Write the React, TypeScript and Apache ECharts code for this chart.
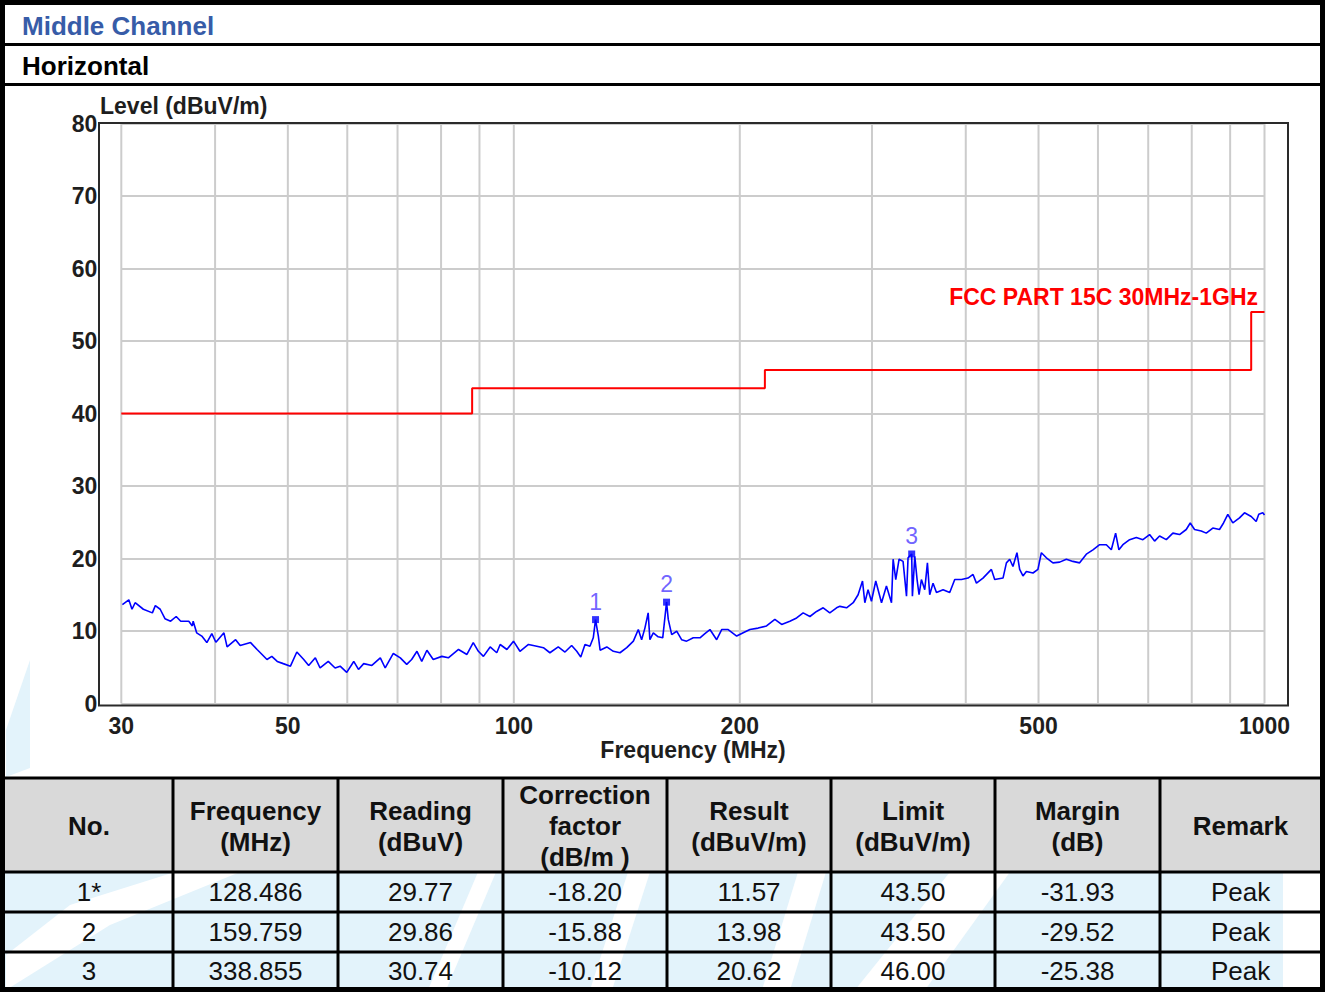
import React, { useEffect, useRef } from 'react';
import * as echarts from 'echarts';

// ---- Data ----
const traceFreq = [
  30.1, 30.7, 31.0, 31.3, 32.1, 33.0, 33.3, 33.8, 34.3, 34.9, 35.5, 36.0, 36.9, 37.3, 37.4, 37.8, 38.4, 39.0, 39.6, 40.1,
  41.1, 41.5, 42.6, 43.2, 44.6, 45.5, 46.2, 46.9, 47.6, 48.4, 49.3, 50.4, 51.4, 52.5, 53.3, 54.4, 55.2, 56.6, 57.8, 58.7,
  59.9, 61.2, 62.1, 63.1, 64.7, 66.4, 67.4, 69.1, 70.6, 72.0, 73.1, 74.3, 75.4, 76.6, 78.1, 80.2, 81.8, 84.4, 86.6, 88.3,
  89.7, 91.1, 93.0, 94.9, 95.9, 97.9, 99.9, 101.9, 104.6, 107.3, 109.5, 111.7, 114.6, 117.0, 119.4, 121.3, 122.8, 124.4,
  126.3, 127.6, 128.486, 129.6, 130.3, 133.0, 135.7, 138.5, 141.4, 144.3, 146.5, 148.0, 149.5, 151.0, 151.8, 153.4, 155.7,
  157.9, 159.759, 160.6, 162.3, 164.8, 167.3, 169.9, 173.4, 177.0, 179.7, 182.5, 186.3, 189.2, 193.0, 198.1, 202.1, 206.3,
  211.6, 217.1, 222.7, 227.4, 233.2, 238.1, 242.9, 248.0, 253.1, 258.3, 263.6, 269.1, 271.9, 277.5, 283.2, 287.5, 291.4,
  293.5, 296.4, 299.5, 303.5, 308.9, 313.6, 318.5, 320.1, 322.7, 326.0, 330.0, 333.5, 335.1, 338.855, 339.6, 342.1, 344.5,
  346.6, 349.1, 352.7, 355.6, 358.1, 361.8, 365.6, 373.1, 380.8, 386.7, 394.7, 402.8, 409.0, 413.3, 421.7, 432.7, 437.1,
  448.4, 453.1, 457.7, 462.3, 468.0, 471.9, 476.7, 481.7, 491.6, 499.1, 504.4, 512.2, 522.6, 533.5, 544.6, 555.7, 567.2,
  579.0, 590.8, 603.1, 615.6, 625.1, 633.4, 639.8, 647.7, 661.2, 674.9, 688.7, 702.9, 713.8, 724.8, 739.9, 755.0, 770.6,
  786.6, 796.3, 806.9, 823.6, 836.4, 853.4, 871.1, 881.9, 893.6, 907.4, 926.2, 940.5, 960.0, 974.8, 982.6, 994.7, 1000,
];
const traceLevel = [
  13.65, 14.3, 13.0, 13.9, 13.0, 12.5, 13.5, 13.0, 11.7, 11.35, 12.0, 11.35, 11.35, 10.7, 11.35, 9.75, 9.3, 8.4, 9.65, 8.45,
  9.75, 7.8, 8.8, 8.0, 8.4, 7.45, 6.76, 6.07, 6.5, 5.8, 5.5, 5.15, 7.1, 6.07, 5.25, 6.3, 4.9, 5.8, 4.9, 5.15,
  4.3, 5.8, 4.7, 5.5, 5.25, 6.3, 4.9, 6.9, 6.3, 5.4, 6.07, 7.2, 5.8, 7.35, 6.07, 6.5, 6.3, 7.45, 6.76, 8.4,
  7.2, 6.5, 7.8, 7.0, 8.14, 7.45, 8.6, 7.2, 8.14, 7.9, 7.7, 7.0, 7.8, 7.1, 8.0, 7.2, 6.4, 8.14,
  7.9, 9.06, 11.57, 9.3, 7.35, 7.8, 7.2, 7.0, 7.7, 8.6, 10.2, 8.8, 10.4, 12.5, 8.8, 9.75, 9.2,
  9.06, 13.98, 11.6, 9.5, 9.97, 8.8, 8.6, 9.06, 9.06, 9.65, 10.2, 8.8, 10.2, 10.2, 9.3, 9.75, 10.2,
  10.4, 10.7, 11.6, 10.9, 11.35, 11.8, 12.5, 12.0, 12.7, 13.2, 12.5, 13.2, 13.4, 13.2, 13.9, 15.0, 16.9,
  13.9, 15.7, 14.1, 16.9, 13.9, 16.2, 13.9, 19.9, 17.1, 19.9, 19.6, 14.8, 20.1, 20.62, 14.8, 20.3, 17.1,
  15.0, 17.1, 15.7, 19.4, 15.0, 16.6, 15.3, 15.7, 15.3, 17.1, 17.1, 17.3, 17.8, 16.6, 17.3, 18.5, 17.1,
  17.3, 19.4, 19.9, 18.9, 20.8, 18.5, 17.6, 18.2, 18.0, 18.5, 20.8, 20.1, 19.4, 19.5, 19.9, 19.6, 19.4,
  20.6, 21.2, 21.9, 21.9, 21.2, 23.5, 21.2, 21.9, 22.6, 22.9, 22.6, 23.3, 22.4, 23.1, 22.6, 23.5, 23.3,
  24.0, 24.9, 24.0, 23.8, 23.5, 24.2, 24.0, 24.9, 26.1, 24.9, 25.6, 26.3, 25.8, 25.1, 26.1, 26.3, 26.0,
];
const limitFreq = [30, 88, 88, 216, 216, 960, 960, 1000];
const limitLevel = [40, 40, 43.5, 43.5, 46, 46, 54, 54];
const markerFreq = [128.486, 159.759, 338.855];
const markerLevel = [11.57, 13.98, 20.62];
const markerNames = ['1', '2', '3'];
const gridFreqs = [30, 40, 50, 60, 70, 80, 90, 100, 200, 300, 400, 500, 600, 700, 800, 900, 1000];
const tickLabelFreqs = [30, 50, 100, 200, 500, 1000];

const tableHeaders = ['No.', 'Frequency\n(MHz)', 'Reading\n(dBuV)', 'Correction\nfactor\n(dB/m )', 'Result\n(dBuV/m)', 'Limit\n(dBuV/m)', 'Margin\n(dB)', 'Remark'];
const tableNo = ['1*', '2', '3'];
const tableFreq = ['128.486', '159.759', '338.855'];
const tableReading = ['29.77', '29.86', '30.74'];
const tableCorr = ['-18.20', '-15.88', '-10.12'];
const tableResult = ['11.57', '13.98', '20.62'];
const tableLimit = ['43.50', '43.50', '46.00'];
const tableMargin = ['-31.93', '-29.52', '-25.38'];
const tableRemark = ['Peak', 'Peak', 'Peak'];

const FONT = '"Liberation Sans", Arial, Helvetica, sans-serif';

function txt(x: number, y: number, text: string, o: any = {}) {
  const align = o.align || 'left';
  return {
    type: 'text',
    x,
    y,
    z: o.z ?? 20,
    silent: true,
    style: {
      text,
      fill: o.fill || '#111',
      fontFamily: FONT,
      fontSize: o.size || 23,
      fontWeight: o.weight || 'normal',
      align,
      textAlign: align,
      verticalAlign: 'middle',
      textVerticalAlign: 'middle',
      lineHeight: o.lineHeight,
    },
  };
}

function hline(x1: number, x2: number, y: number, w: number, color = '#000') {
  return { type: 'line', z: 30, silent: true, shape: { x1, y1: y, x2, y2: y }, style: { stroke: color, lineWidth: w } };
}
function vline(x: number, y1: number, y2: number, w: number, color = '#000') {
  return { type: 'line', z: 30, silent: true, shape: { x1: x, y1, x2: x, y2 }, style: { stroke: color, lineWidth: w } };
}

function buildGraphic() {
  const g: any[] = [];
  const WM = '#e3f3fb';
  // background
  g.push({ type: 'rect', z: -10, silent: true, shape: { x: 0, y: 0, width: 1325, height: 992 }, style: { fill: '#fff' } });
  // watermark in chart area left edge
  g.push({ type: 'polygon', z: -9, silent: true, shape: { points: [[6, 730], [30, 660], [30, 768], [6, 777]] }, style: { fill: WM } });

  // table body background + watermark stripes
  g.push({ type: 'rect', z: -8, silent: true, shape: { x: 5, y: 872, width: 1316, height: 118 }, style: { fill: WM } });
  const white: number[][][] = [
    [[6, 955], [70, 905], [175, 872], [240, 872], [110, 925], [6, 990]],
    [[478, 872], [496, 872], [446, 990], [428, 990]],
    [[628, 872], [650, 872], [612, 990], [590, 990]],
    [[798, 872], [826, 872], [790, 990], [762, 990]],
    [[950, 872], [1010, 872], [925, 990], [855, 990]],
    [[1283, 872], [1322, 872], [1322, 990], [1283, 990]],
  ];
  white.forEach((pts) => g.push({ type: 'polygon', z: -7, silent: true, shape: { points: pts }, style: { fill: '#fff' } }));

  // header texts
  g.push(txt(22, 26, 'Middle Channel', { size: 26, weight: 'bold', fill: '#375ca8' }));
  g.push(txt(22, 66, 'Horizontal', { size: 26, weight: 'bold', fill: '#000' }));
  g.push(hline(5, 1321, 44.5, 3));
  g.push(hline(5, 1321, 84.5, 3));

  // chart frame
  g.push({ type: 'rect', z: 15, silent: true, shape: { x: 99, y: 123, width: 1189, height: 582.5 }, style: { fill: 'none', stroke: '#2a2a2a', lineWidth: 2 } });
  g.push(txt(100, 106, 'Level (dBuV/m)', { weight: 'bold', fill: '#1e1e1e' }));
  g.push(txt(693, 750, 'Frequency (MHz)', { weight: 'bold', fill: '#1e1e1e', align: 'center' }));
  g.push(txt(1258, 297, 'FCC PART 15C 30MHz-1GHz', { weight: 'bold', fill: '#ff0000', align: 'right' }));

  // table
  const colEdges = [5, 173, 338, 503, 667, 831, 995, 1160, 1321];
  const rowEdges = [778, 872, 912, 952, 990];
  g.push({ type: 'rect', z: -8, silent: true, shape: { x: 5, y: 778, width: 1316, height: 94 }, style: { fill: '#d9d9d9' } });
  rowEdges.forEach((y) => g.push(hline(5, 1321, y, 3)));
  colEdges.slice(1, -1).forEach((x) => g.push(vline(x, 778, 990, 3)));
  const cols = [tableNo, tableFreq, tableReading, tableCorr, tableResult, tableLimit, tableMargin, tableRemark];
  const rowCenters = [892, 932, 971];
  for (let c = 0; c < 8; c++) {
    const cx = (colEdges[c] + colEdges[c + 1]) / 2;
    g.push(txt(cx, 826, tableHeaders[c], { size: 26, weight: 'bold', align: 'center', lineHeight: 31, fill: '#111' }));
    for (let r = 0; r < 3; r++) {
      g.push(txt(cx, rowCenters[r], cols[c][r], { size: 26, align: 'center', fill: '#111' }));
    }
  }

  // outer border
  g.push({ type: 'rect', z: 40, silent: true, shape: { x: 2.5, y: 2.5, width: 1320, height: 987 }, style: { fill: 'none', stroke: '#000', lineWidth: 5 } });
  return g;
}

export default function App() {
  const ref = useRef<HTMLDivElement>(null);
  useEffect(() => {
    document.body.style.margin = '0';
    const chart = echarts.init(ref.current!, null, { renderer: 'svg' });
    const option: any = {
      animation: false,
      grid: { left: 121.3, right: 60.5, top: 123.5, bottom: 288.5, containLabel: false, outerBoundsMode: 'none' },
      xAxis: {
        type: 'log',
        logBase: 10,
        min: 30,
        max: 1000,
        axisLine: { show: false },
        axisTick: { show: false },
        axisLabel: { show: false },
        splitLine: { show: false },
        minorSplitLine: { show: false },
      },
      yAxis: {
        type: 'value',
        min: 0,
        max: 80,
        interval: 10,
        axisLine: { show: false },
        axisTick: { show: false },
        axisLabel: { margin: 24, color: '#1e1e1e', fontSize: 23, fontWeight: 'bold', fontFamily: FONT },
        splitLine: { show: true, lineStyle: { color: '#cccccc', width: 2 } },
      },
      graphic: { elements: buildGraphic() },
      series: [
        {
          type: 'custom',
          name: 'grid',
          z: 1,
          silent: true,
          data: gridFreqs.map((f) => [f, 0]),
          renderItem: (params: any, api: any) => {
            const f = api.value(0);
            const p0 = api.coord([f, 0]);
            const p1 = api.coord([f, 80]);
            const children: any[] = [
              { type: 'line', shape: { x1: p0[0], y1: p0[1], x2: p1[0], y2: p1[1] }, style: { stroke: '#cccccc', lineWidth: 2 } },
            ];
            if (tickLabelFreqs.indexOf(f) >= 0) {
              children.push({
                type: 'text',
                x: p0[0],
                y: p0[1] + 22.5,
                style: {
                  text: String(f),
                  fill: '#1e1e1e',
                  fontFamily: FONT,
                  fontSize: 23,
                  fontWeight: 'bold',
                  align: 'center',
                  textAlign: 'center',
                  verticalAlign: 'middle',
                  textVerticalAlign: 'middle',
                },
              });
            }
            return { type: 'group', children };
          },
        },
        {
          type: 'line',
          name: 'Limit',
          z: 3,
          silent: true,
          showSymbol: false,
          data: limitFreq.map((f, i) => [f, limitLevel[i]]),
          lineStyle: { color: '#ff0000', width: 2 },
        },
        {
          type: 'line',
          name: 'Trace',
          z: 4,
          silent: true,
          showSymbol: false,
          data: traceFreq.map((f, i) => [f, traceLevel[i]]),
          lineStyle: { color: '#0000ff', width: 1.6 },
        },
        {
          type: 'scatter',
          name: 'Markers',
          z: 5,
          silent: true,
          symbol: 'rect',
          symbolSize: 7,
          itemStyle: { color: '#0000ff' },
          data: markerFreq.map((f, i) => ({ value: [f, markerLevel[i]], name: markerNames[i] })),
          label: {
            show: true,
            position: 'top',
            distance: 3,
            formatter: (p: any) => p.name,
            color: '#4d3bff',
            fontSize: 23,
            fontFamily: FONT,
          },
        },
      ],
    };
    chart.setOption(option);
    return () => chart.dispose();
  }, []);
  return <div ref={ref} style={{ position: 'absolute', left: 0, top: 0, width: 1325, height: 992 }} />;
}
